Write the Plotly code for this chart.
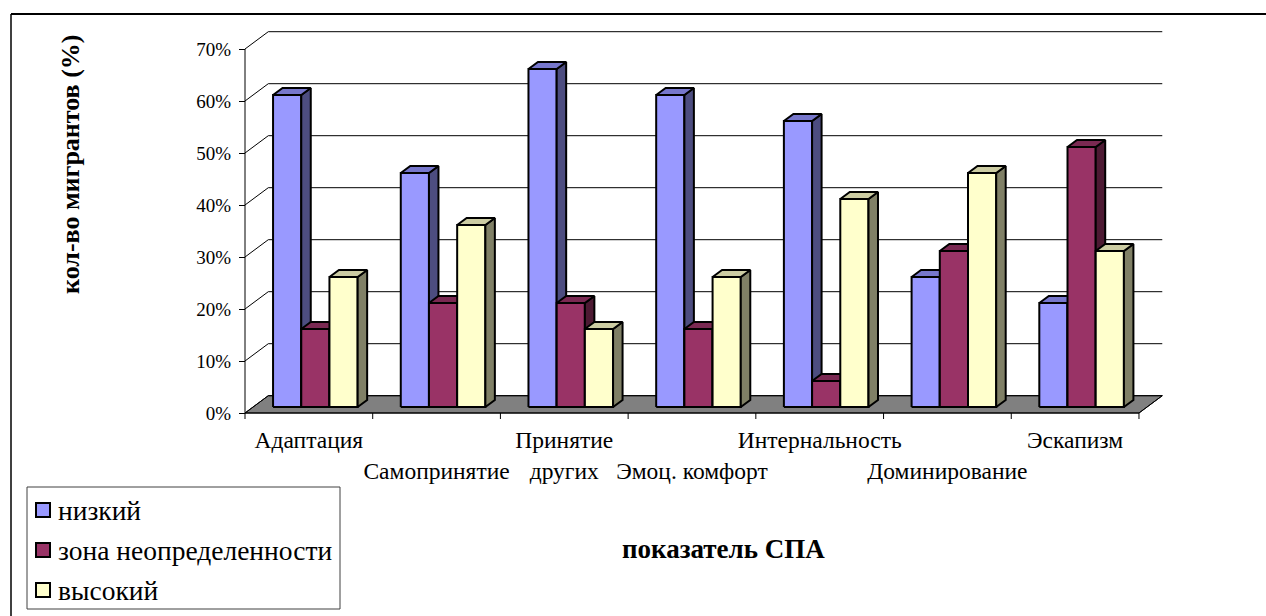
import plotly.graph_objects as go

# ---------------- data ----------------
categories = ["Адаптация", "Самопринятие", "Принятие других", "Эмоц. комфорт",
              "Интернальность", "Доминирование", "Эскапизм"]
tick_row1 = ["Адаптация", "", "Принятие", "", "Интернальность", "", "Эскапизм"]
tick_row2 = ["", "Самопринятие", "других", "Эмоц. комфорт", "", "Доминирование", ""]
series_names = ["низкий", "зона неопределенности", "высокий"]
low = [60, 45, 65, 60, 55, 25, 20]
mid = [15, 20, 20, 15, 5, 30, 50]
high = [25, 35, 15, 25, 40, 45, 30]
y_ticks = [0, 10, 20, 30, 40, 50, 60, 70]
y_title = "кол-во мигрантов (%)"
x_title = "показатель СПА"

series_values = [low, mid, high]
front_colors = ["#9999FF", "#993366", "#FFFFCC"]
side_colors = ["#4D4D80", "#4D1A33", "#808066"]
top_colors = ["#7777CC", "#7A2952", "#CCCCA3"]

# ---------------- geometry (pixels -> data units) ----------------
W_PX, H_PX = 1266, 616
PLOT_L, PLOT_R, PLOT_T, PLOT_B = 230, 1172, 25, 430
X0_PX, Y0_PX = 245, 413          # pixel of x=0 / y=0 (front corner)
UX = 127.71                       # px per category
UY = 5.2                          # px per percent
PW, PH = PLOT_R - PLOT_L, PLOT_B - PLOT_T

x_range = [(PLOT_L - X0_PX) / UX, (PLOT_R - X0_PX) / UX]
y_range = [(Y0_PX - PLOT_B) / UY, (Y0_PX - PLOT_T) / UY]

WALL_DX, WALL_DY = 23.3 / UX, 17.3 / UY
BAR_OFF_X, BAR_OFF_Y = 6.5 / UX, 6.0 / UY
BAR_DX, BAR_DY = 9.5 / UX, 7.0 / UY
BAR_W = 28.2 / UX
N = len(categories)
y_max = max(y_ticks)
FONT = "Liberation Serif"


def px(xp):
    return (xp - PLOT_L) / PW


def py(yp):
    return (PLOT_B - yp) / PH


fig = go.Figure()


def poly(xs, ys, fill, line_color="black", width=1.0):
    fig.add_trace(go.Scatter(x=xs, y=ys, mode="lines", fill="toself",
                             fillcolor=fill, line=dict(color=line_color, width=width),
                             hoverinfo="skip", showlegend=False))


def seg(xs, ys, color="black", width=1.0):
    fig.add_trace(go.Scatter(x=xs, y=ys, mode="lines",
                             line=dict(color=color, width=width),
                             hoverinfo="skip", showlegend=False))


# floor
poly([0, N, N + WALL_DX, WALL_DX, 0], [0, 0, WALL_DY, WALL_DY, 0], "#808080", "#000000", 1)

# back wall gridlines and left wall lines
gx, gy = [], []
for v in y_ticks:
    gx += [WALL_DX, N + WALL_DX, None]
    gy += [v + WALL_DY, v + WALL_DY, None]
    gx += [0, WALL_DX, None]
    gy += [v, v + WALL_DY, None]
seg(gx, gy, "#000000", 1)

# front axis lines
seg([0, 0], [0, y_max], "#000000", 1)
seg([0, N, N + WALL_DX], [0, 0, WALL_DY], "#000000", 1)
# category boundary ticks
tx, ty = [], []
for i in range(N + 1):
    tx += [i, i, None]
    ty += [0, -6 / UY, None]
seg(tx, ty, "#000000", 1)

# bars (front, side, top) per series, painter order left to right
group_pad = (1 - 3 * BAR_W) / 2
for s, vals in enumerate(series_values):
    fx, fy, sx, sy, tpx, tpy = [], [], [], [], [], []
    for i, v in enumerate(vals):
        xl = i + group_pad + BAR_OFF_X + s * BAR_W
        xr = xl + BAR_W
        b = BAR_OFF_Y
        t = b + v
        fx += [xl, xr, xr, xl, xl, None]
        fy += [b, b, t, t, b, None]
        sx += [xr, xr + BAR_DX, xr + BAR_DX, xr, xr, None]
        sy += [b, b + BAR_DY, t + BAR_DY, t, b, None]
        tpx += [xl, xr, xr + BAR_DX, xl + BAR_DX, xl, None]
        tpy += [t, t, t + BAR_DY, t + BAR_DY, t, None]
    poly(fx, fy, front_colors[s], "black", 2)
    poly(sx, sy, side_colors[s], "black", 2)
    poly(tpx, tpy, top_colors[s], "black", 2)

# dummy trace for second label row axis
fig.add_trace(go.Scatter(x=[None], y=[None], xaxis="x2", yaxis="y", showlegend=False))

centers = [i + 0.5 for i in range(N)]
axis_pos = (PLOT_B - Y0_PX) / PH
tick_font = dict(family=FONT, size=23.5, color="black")

fig.update_layout(
    width=W_PX, height=H_PX,
    margin=dict(l=PLOT_L, r=W_PX - PLOT_R, t=PLOT_T, b=H_PX - PLOT_B, pad=0),
    paper_bgcolor="white", plot_bgcolor="rgba(0,0,0,0)",
    showlegend=False,
    xaxis=dict(range=x_range, anchor="free", position=axis_pos,
               tickmode="array", tickvals=centers, ticktext=tick_row1,
               ticks="outside", ticklen=6, tickcolor="rgba(0,0,0,0)",
               showgrid=False, zeroline=False, showline=False,
               tickfont=tick_font, fixedrange=True),
    xaxis2=dict(range=x_range, overlaying="x", anchor="free", position=axis_pos,
                side="bottom",
                tickmode="array", tickvals=centers, ticktext=tick_row2,
                ticks="outside", ticklen=37, tickcolor="rgba(0,0,0,0)",
                showgrid=False, zeroline=False, showline=False,
                tickfont=tick_font, fixedrange=True),
    yaxis=dict(range=y_range, anchor="free", position=(X0_PX - PLOT_L) / PW,
               tickmode="array", tickvals=y_ticks,
               ticktext=[f"{v}%" for v in y_ticks],
               ticks="outside", ticklen=6, tickcolor="black", tickwidth=1,
               ticklabelstandoff=4,
               showgrid=False, zeroline=False, showline=False,
               tickfont=dict(family=FONT, size=19, color="black"),
               fixedrange=True),
)

shapes = []
annotations = []
# outer frame (top and left edges)
shapes.append(dict(type="line", xref="paper", yref="paper",
                   x0=px(11), y0=py(14), x1=px(W_PX + 5), y1=py(14),
                   line=dict(color="black", width=2)))
shapes.append(dict(type="line", xref="paper", yref="paper",
                   x0=px(11), y0=py(14), x1=px(11), y1=py(H_PX + 5),
                   line=dict(color="black", width=1.5)))

# axis titles
annotations.append(dict(xref="paper", yref="paper", x=px(70), y=py(165),
                        text=f"<b>{y_title}</b>", textangle=-90, showarrow=False,
                        xanchor="center", yanchor="middle",
                        font=dict(family=FONT, size=26, color="black")))
annotations.append(dict(xref="paper", yref="paper", x=px(723), y=py(549),
                        text=f"<b>{x_title}</b>", showarrow=False,
                        xanchor="center", yanchor="middle",
                        font=dict(family=FONT, size=27, color="black")))

# manual legend
shapes.append(dict(type="rect", xref="paper", yref="paper",
                   x0=px(27), y0=py(487), x1=px(340), y1=py(609),
                   line=dict(color="#404040", width=1), fillcolor="white"))
row_y = [510, 550, 590]
for s, name in enumerate(series_names):
    yc = row_y[s]
    shapes.append(dict(type="rect", xref="paper", yref="paper",
                       x0=px(36), y0=py(yc - 7), x1=px(50), y1=py(yc + 7),
                       line=dict(color="black", width=2), fillcolor=front_colors[s]))
    annotations.append(dict(xref="paper", yref="paper", x=px(56), y=py(yc),
                            text=name, showarrow=False, xanchor="left", yanchor="middle",
                            font=dict(family=FONT, size=27.5, color="black")))

fig.update_layout(shapes=shapes, annotations=annotations)
fig.write_html("out.html", config={"displayModeBar": False},
               post_script="document.body.style.margin='0';")
